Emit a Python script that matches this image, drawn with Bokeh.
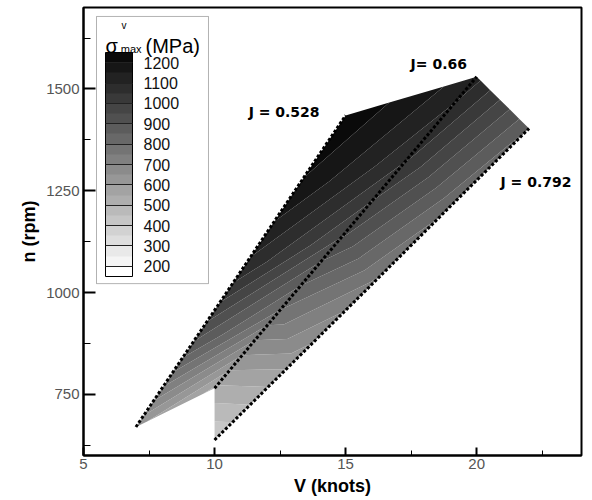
import numpy as np
from bokeh.plotting import figure
from bokeh.models import (Range1d, SingleIntervalTicker, ColorBar, LinearColorMapper,
                          FixedTicker, Label, BoxAnnotation)
from bokeh.embed import file_html
from bokeh.resources import INLINE

# ---------------- data ----------------
J_names = ["J = 0.528", "J= 0.66", "J = 0.792"]
# nodes along each constant-J line (V in knots, n in rpm)
V_528 = [7, 9, 11, 13, 15]
n_528 = [670, 861, 1052, 1244, 1435]
V_660 = [10, 12.5, 15, 17.5, 20]
n_660 = [765, 957, 1148, 1339, 1530]
V_792 = [10, 13, 16, 19, 22]
n_792 = [638, 829, 1020, 1212, 1403]
# sigma_max (MPa) at those nodes
s_528 = [610, 880, 1080, 1190, 1240]
s_660 = [540, 800, 960, 1060, 1120]
s_792 = [400, 620, 740, 810, 850]
levels = list(range(150, 1300, 50))          # contour levels 150 ... 1250
legend_ticks = list(range(200, 1300, 100))   # 200 ... 1200

# grey palette, one colour per level interval (white -> black)
greys = []
for L in levels[:-1]:
    g = 255 if L < 200 else int(round(245 - (L - 200) * 0.235))
    greys.append("#%02x%02x%02x" % (g, g, g))

x = np.array([V_528, V_660, V_792], dtype=float).T
y = np.array([n_528, n_660, n_792], dtype=float).T
z = np.array([s_528, s_660, s_792], dtype=float).T

p = figure(width=584, height=498, output_backend="svg", toolbar_location=None,
           x_range=Range1d(5, 24), y_range=Range1d(600, 1700),
           min_border_left=83, min_border_right=3, min_border_top=7, min_border_bottom=40)
p.grid.visible = False
p.outline_line_color = "black"
p.outline_line_width = 2
p.background_fill_color = "white"

cr = p.contour(x, y, z, levels, fill_color=greys)
# hide anti-aliasing seams between bands
g = cr.fill_renderer.glyph
g.line_color = g.fill_color
g.line_width = 1.2

for Vs, ns in [(V_528, n_528), (V_660, n_660), (V_792, n_792)]:
    p.line(Vs, ns, line_color="black", line_width=3, line_dash="3 2")

# J labels
label_pos = [(11.3, 1444), (17.48, 1561), (20.91, 1271)]
for txt, (vx, vy) in zip(J_names, label_pos):
    p.add_layout(Label(x=vx, y=vy, text=txt, text_font="DejaVu Sans", text_font_style="bold",
                       text_font_size="14px", text_color="black",
                       text_baseline="middle", text_align="left"))

# axes
p.xaxis.ticker = SingleIntervalTicker(interval=5, num_minor_ticks=2)
p.yaxis.ticker = SingleIntervalTicker(interval=250, num_minor_ticks=2)
p.xaxis.axis_label = "V (knots)"
p.yaxis.axis_label = "n (rpm)"
for ax in (p.xaxis[0], p.yaxis[0]):
    ax.axis_line_width = 2
    ax.axis_line_color = "black"
    ax.major_tick_out = 0
    ax.minor_tick_out = 0
    ax.major_tick_line_width = 2
    ax.major_tick_line_color = "black"
    ax.minor_tick_line_color = "black"
    ax.major_label_text_font = "Liberation Sans"
    ax.major_label_text_font_size = "15px"
    ax.major_label_text_color = "#555555"
    ax.axis_label_text_font = "Liberation Sans"
    ax.axis_label_text_font_style = "bold"
    ax.axis_label_text_font_size = "18px"
    ax.axis_label_text_color = "black"
p.xaxis.major_tick_in = 8
p.xaxis.minor_tick_in = 5
p.yaxis.major_tick_in = 12
p.yaxis.minor_tick_in = 7
p.xaxis.major_label_standoff = 3
p.xaxis.axis_label_standoff = 4
p.yaxis.major_label_standoff = 4
p.yaxis.axis_label_standoff = 4

# legend box + colour bar
p.add_layout(BoxAnnotation(left=5.496, right=9.769, top=1678, bottom=1022,
                           fill_color="white", fill_alpha=1.0,
                           line_color="black", line_width=1))
mapper = LinearColorMapper(palette=greys, low=levels[0], high=levels[-1])
cb = ColorBar(color_mapper=mapper, location=(22, 179), padding=0, margin=0,
              width=27, height=224, display_low=195, display_high=1235,
              ticker=FixedTicker(ticks=legend_ticks),
              major_label_text_font="Liberation Sans", major_label_text_font_size="16px",
              major_label_text_color="#111111", label_standoff=11,
              major_tick_in=27, major_tick_out=0, major_tick_line_color="#222222",
              minor_tick_line_color=None, bar_line_color="black",
              border_line_color=None, background_fill_alpha=0.0)
p.add_layout(cb, "center")
p.add_layout(Label(x=5.84, y=1605, text="σ", text_font="Liberation Sans",
                   text_font_size="20px", text_color="black", text_baseline="alphabetic"))
p.add_layout(Label(x=7.365, y=1605, text="(MPa)", text_font="Liberation Sans",
                   text_font_size="20px", text_color="black", text_baseline="alphabetic"))
p.add_layout(Label(x=6.45, y=1656, text="v", text_font="Liberation Sans",
                   text_font_size="10px", text_color="black", text_baseline="alphabetic"))
p.add_layout(Label(x=6.42, y=1598, text="max", text_font="Liberation Sans",
                   text_font_size="11px", text_color="black", text_baseline="alphabetic"))

open("out.html", "w").write(file_html(p, INLINE))
